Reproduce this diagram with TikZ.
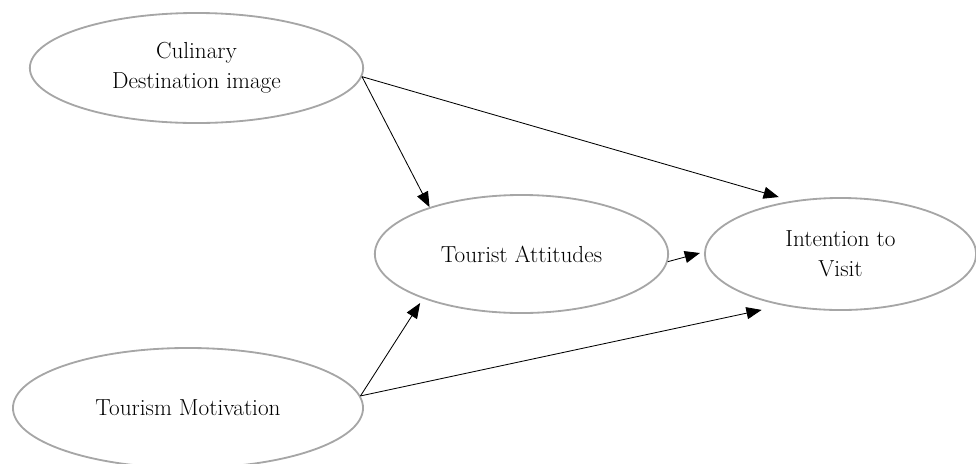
\documentclass[tikz,border=0pt]{standalone}
\usepackage{xcolor}
\usepackage{tikz}
\usetikzlibrary{arrows.meta, shapes.geometric, positioning}

\definecolor{rimgray}{RGB}{166,166,166}

\begin{document}
\begin{tikzpicture}[
  x=0.025cm, y=-0.025cm,
  construct/.style = {ellipse, draw=rimgray, line width=1.3pt, align=center,
                      inner sep=0pt, font=\fontsize{16.5}{21}\selectfont},
  arr/.style       = {-{Triangle[length=0.38cm, width=0.3cm]}, line width=0.6pt}
]
  \useasboundingbox (0,0) rectangle (976,463);

  \node[construct, minimum width=8.33cm, minimum height=2.75cm] (cdi) at (196.5,68)
        {Culinary\\Destination image};
  \node[construct, minimum width=7.33cm, minimum height=2.95cm] (ta) at (521.5,254)
        {Tourist Attitudes};
  \node[construct, minimum width=6.78cm, minimum height=2.8cm] (iv) at (840.5,254)
        {Intention to\\Visit};
  \node[construct, minimum width=8.75cm, minimum height=3.0cm] (tm) at (188,408)
        {Tourism Motivation};

  \draw[arr] (cdi.-3) -- (ta.153);
  \draw[arr] (cdi.-3) -- ([shift={(-6,-5)}]iv.137);
  \draw[arr] (ta.-3) -- ([shift={(-4,-1)}]iv.180);
  \draw[arr] (tm.4) -- ([shift={(-7,3)}]ta.206);
  \draw[arr] (tm.4) -- ([shift={(-9,7)}]iv.215);
\end{tikzpicture}
\end{document}
